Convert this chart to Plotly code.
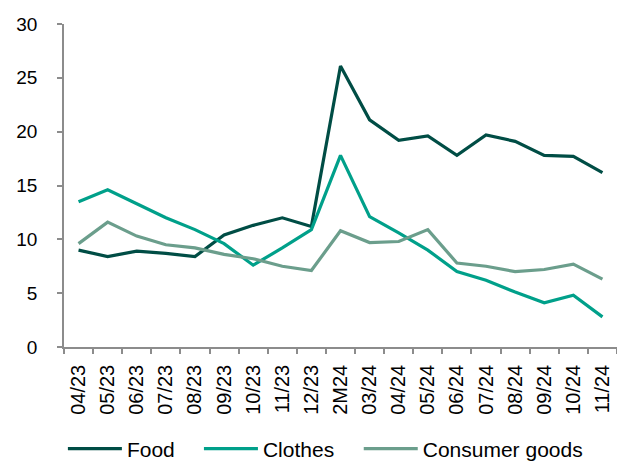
import plotly.graph_objects as go

categories = ["04/23", "05/23", "06/23", "07/23", "08/23", "09/23", "10/23", "11/23", "12/23",
              "2M24", "03/24", "04/24", "05/24", "06/24", "07/24", "08/24", "09/24", "10/24", "11/24"]
food = [9.0, 8.4, 8.9, 8.7, 8.4, 10.4, 11.3, 12.0, 11.2, 26.1, 21.1, 19.2, 19.6, 17.8, 19.7, 19.1, 17.8, 17.7, 16.2]
clothes = [13.5, 14.6, 13.3, 12.0, 10.9, 9.6, 7.6, 9.2, 10.9, 17.8, 12.1, 10.6, 9.0, 7.0, 6.2, 5.1, 4.1, 4.8, 2.8]
consumer = [9.6, 11.6, 10.3, 9.5, 9.2, 8.6, 8.2, 7.5, 7.1, 10.8, 9.7, 9.8, 10.9, 7.8, 7.5, 7.0, 7.2, 7.7, 6.3]
y_ticks = [0, 5, 10, 15, 20, 25, 30]

series = [("Food", food, "#004D45", "legend", -0.002),
          ("Clothes", clothes, "#00A08A", "legend2", 0.244),
          ("Consumer goods", consumer, "#6B9E8C", "legend3", 0.533)]

fig = go.Figure()
legends = {}
for name, vals, col, leg, lx in series:
    fig.add_trace(go.Scatter(x=categories, y=vals, name=name, mode="lines", legend=leg,
                             line=dict(color=col, width=3.2)))
    legends[leg] = dict(orientation="h", x=lx, xanchor="left", y=-0.316, yanchor="middle",
                        font=dict(size=21), itemwidth=54, bgcolor="rgba(0,0,0,0)")

axis_col = "#8C8C8C"
fig.update_layout(
    width=617, height=462,
    margin=dict(l=64, r=0, t=24, b=115, autoexpand=False),
    plot_bgcolor="white", paper_bgcolor="white",
    font=dict(family="Liberation Sans, Arial, sans-serif", color="#000000"),
    showlegend=True,
    xaxis=dict(type="category", range=[-0.5, 18.5], showline=True, linecolor=axis_col, linewidth=1.5,
               ticks="outside", tickson="boundaries", ticklen=5, tickcolor=axis_col, tickwidth=1.5,
               tickangle=-90, tickfont=dict(size=20), showgrid=False, zeroline=False, automargin=False,
               ticklabelstandoff=8),
    yaxis=dict(range=[0, 30], tickvals=y_ticks, showline=True, linecolor=axis_col, linewidth=1.5,
               ticks="outside", ticklen=5, tickcolor=axis_col, tickwidth=1.5,
               tickfont=dict(size=19), showgrid=False, zeroline=False, ticklabelstandoff=16,
               automargin=False),
    **legends,
)

fig.write_html("out.html")
